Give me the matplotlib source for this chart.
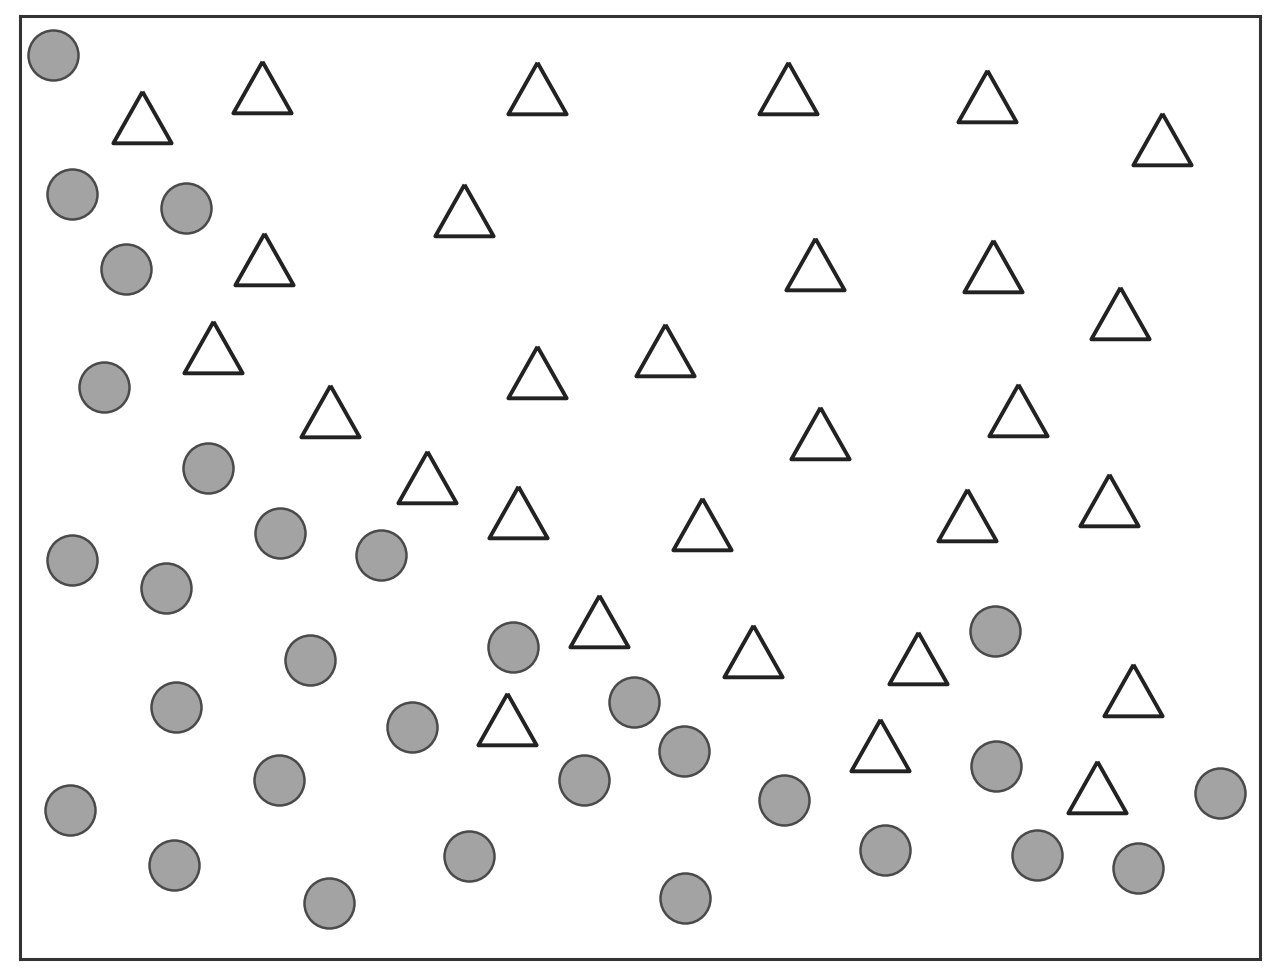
import matplotlib
matplotlib.use("Agg")
import matplotlib.pyplot as plt

# positions (pixel-like units, y grows downward)
circle_x = [53, 72, 186, 126, 104, 208, 280, 72, 166, 381, 310, 513, 176, 412, 634,
            684, 279, 584, 784, 70, 174, 469, 329, 685, 885, 995, 996, 1037, 1138, 1220]
circle_y = [55, 194, 208, 269, 387, 468, 533, 560, 588, 555, 660, 647, 707, 727, 702,
            751, 780, 780, 800, 810, 865, 856, 903, 898, 850, 631, 766, 855, 868, 793]

tri_x = [142, 262, 537, 788, 987, 1162, 464, 264, 815, 993, 1120, 213, 537, 665, 330,
         820, 1018, 427, 518, 702, 967, 1109, 599, 753, 918, 1133, 507, 880, 1097]
tri_y = [117, 87, 88, 88, 96, 139, 210, 259, 264, 266, 313, 347, 372, 350, 411,
         433, 410, 477, 512, 524, 515, 500, 621, 651, 658, 690, 719, 745, 787]

fig = plt.figure(figsize=(12.78, 9.76), dpi=100)
ax = fig.add_axes([20/1278, (976-959)/976, 1240/1278, 943/976])

tri = [(0, 0.885), (-1, -0.885), (1, -0.885), (0, 0.885)]

ax.plot(circle_x, circle_y, ls="none", marker="o", markersize=36,
        markerfacecolor="#a3a3a3", markeredgecolor="#4a4a4a", markeredgewidth=1.8)
ax.plot(tri_x, tri_y, ls="none", marker=tri, markersize=42,
        markerfacecolor="white", markeredgecolor="#222222", markeredgewidth=2.8)

ax.set_xlim(20, 1260)
ax.set_ylim(959, 16)
ax.set_xticks([])
ax.set_yticks([])
for s in ax.spines.values():
    s.set_linewidth(2.2)
    s.set_color("#333333")

fig.savefig("out.png", dpi=100)
